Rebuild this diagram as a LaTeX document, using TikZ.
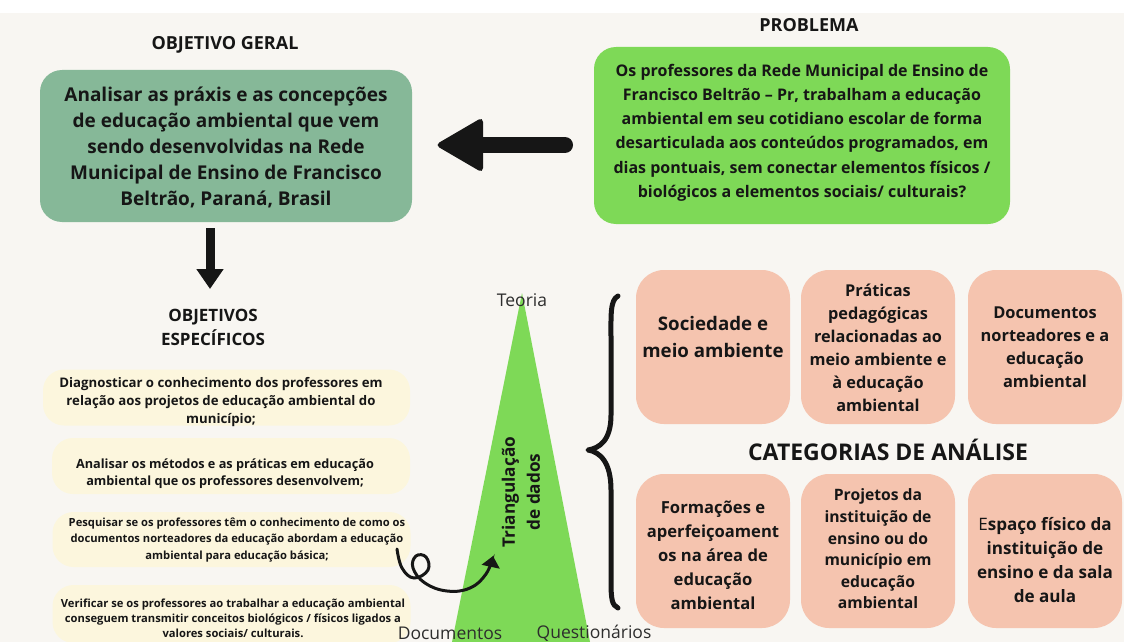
\documentclass[tikz,border=0pt]{standalone}
\usepackage{fontspec}
\setmainfont{Open Sans}
\usetikzlibrary{arrows.meta}
\definecolor{bgc}{RGB}{248,246,242}
\definecolor{sage}{RGB}{134,184,152}
\definecolor{lime}{RGB}{126,217,87}
\definecolor{cream}{RGB}{252,246,221}
\definecolor{peach}{RGB}{245,196,175}
\definecolor{ink}{RGB}{22,22,22}
\definecolor{grayink}{RGB}{45,45,45}
\newcommand{\fs}[2]{\fontsize{#1}{#2}\selectfont}
\begin{document}
\begin{tikzpicture}[x=1pt,y=-1pt,
  panel/.style={draw=none, inner sep=0pt, outer sep=0pt},
  bigbox/.style={panel, rounded corners=22pt},
  notebox/.style={panel, fill=cream, rounded corners=21pt, minimum width=358pt, minimum height=56pt},
  catbox/.style={panel, fill=peach, rounded corners=28pt, minimum width=154pt, minimum height=154pt},
  txt/.style={align=center, inner sep=0pt, text=ink, font=\bfseries},
  title/.style={align=center, inner sep=0pt, text=ink, font=\bfseries\fs{18}{24}},
  plain/.style={inner sep=0pt, text=grayink, font=\fs{17.5}{20}}
]
\useasboundingbox (0,0) rectangle (1124,642);
\fill[bgc] (0,0) rectangle (1124,642);
\fill[white] (0,0) rectangle (1124,13);

% titles
\node[title] (tog) at (225,45) {OBJETIVO GERAL};
\node[title] (tpb) at (809,25) {PROBLEMA};
\node[title, font=\bfseries\fs{17}{24}] (toe) at (213,327) {OBJETIVOS\\ESPECÍFICOS};
\node[txt, font=\bfseries\fs{23}{28}] (tcat) at (888,450) {CATEGORIAS DE ANÁLISE};

% objetivo geral
\node[bigbox, fill=sage, minimum width=372pt, minimum height=152pt] (og) at (226,146) {};
\node[txt, font=\bfseries\fs{19}{26}] (ogt) at (226,147) {Analisar as práxis e as concepções\\de educação ambiental que vem\\sendo desenvolvidas na Rede\\Municipal de Ensino de Francisco\\Beltrão, Paraná, Brasil};

% problema
\node[bigbox, fill=lime, minimum width=416pt, minimum height=177pt] (pb) at (802,135.5) {};
\node[txt, font=\bfseries\fs{16}{24.2}] (pbt) at (802,132.5) {Os professores da Rede Municipal de Ensino de\\Francisco Beltrão – Pr, trabalham a educação\\ambiental em seu cotidiano escolar de forma\\desarticulada aos conteúdos programados, em\\dias pontuais, sem conectar elementos físicos /\\biológicos a elementos sociais/ culturais?};

% big arrow problema -> objetivo
\coordinate (arrS) at (565,145);
\coordinate (arrE) at (435,145);
\draw[ink, line width=16pt, line cap=round] (arrS) -- (476,145);
\fill[ink, rounded corners=5pt] (arrE) -- (483,117) -- (483,173) -- cycle;

% down arrow
\coordinate (dA) at (210,228);
\coordinate (dB) at (210,289);
\draw[ink, line width=9pt, -{Triangle[length=20pt,width=26pt]}] (dA) -- (dB);

% objetivos especificos
\node[notebox, minimum width=367pt, minimum height=56pt] (y1) at (226.5,397.5) {};
\node[txt, font=\bfseries\fs{13.2}{18}] (y1t) at (221,402) {Diagnosticar o conhecimento dos professores em\\relação aos projetos de educação ambiental do\\município;};
\node[notebox] (y2) at (231,466) {};
\node[txt, font=\bfseries\fs{12.7}{17.5}] (y2t) at (225,473.5) {Analisar os métodos e as práticas em educação\\ambiental que os professores desenvolvem;};
\node[notebox, minimum height=55pt] (y3) at (231.5,539.5) {};
\node[txt, font=\bfseries\fs{11.2}{16.5}] (y3t) at (237,540) {Pesquisar se os professores têm o conhecimento de como os\\documentos norteadores da educação abordam a educação\\ambiental para educação básica;};
\node[notebox, minimum height=58pt] (y4) at (231.5,614) {};
\node[txt, font=\bfseries\fs{11.2}{15.2}] (y4t) at (233,618) {Verificar se os professores ao trabalhar a educação ambiental\\conseguem transmitir conceitos biológicos / físicos ligados a\\valores sociais/ culturais.};

% triangle
\fill[lime] (522,293) -- (590,642) -- (452,642) -- cycle;
\node[plain] (teo) at (522,300) {Teoria};
\node[plain] (doc) at (450,633) {Documentos};
\node[plain] (que) at (594,633) {Questionários};
\node[txt, rotate=90, font=\bfseries\fs{17.2}{25}] (tri) at (521,492) {Triangulação\\de dados};

% curly arrow
\coordinate (cS) at (397,549);
\coordinate (cE) at (493,556);
\draw[ink, line width=3pt, line cap=round, -{Triangle[length=11pt,width=18pt]}]
  plot[smooth, tension=0.7] coordinates {(cS) (402,568) (414,578) (428,570) (426,557) (416,556) (413,568) (425,583) (447,591) (470,588) (486,574) (cE)};

% brace
\coordinate (bT) at (618,296);
\coordinate (bM) at (588,450);
\coordinate (bB) at (618,608);
\draw[ink, line width=5pt, line cap=round, line join=round]
  (bT) .. controls (610,300) and (611,315) .. (611,340) -- (611,415)
  .. controls (611,440) and (600,448) .. (bM)
  .. controls (600,452) and (611,462) .. (611,490) -- (611,580)
  .. controls (611,600) and (612,605) .. (bB);

% categorias
\node[catbox] (c1) at (713,347) {};
\node[catbox] (c2) at (878,347) {};
\node[catbox] (c3) at (1045,347) {};
\node[catbox] (c4) at (713,551) {};
\node[catbox] (c5) at (878,551) {};
\node[catbox] (c6) at (1045,551) {};
\node[txt, font=\bfseries\fs{18.7}{27}] (c1t) at (713,337) {Sociedade e\\meio ambiente};
\node[txt, font=\bfseries\fs{16.3}{23}] (c2t) at (878,347.5) {Práticas\\pedagógicas\\relacionadas ao\\meio ambiente e\\à educação\\ambiental};
\node[txt, font=\bfseries\fs{16.4}{23}] (c3t) at (1045,347.5) {Documentos\\norteadores e a\\educação\\ambiental};
\node[txt, font=\bfseries\fs{16.6}{24}] (c4t) at (713,555.5) {Formações e\\aperfeiçoament\\os na área de\\educação\\ambiental};
\node[txt, font=\bfseries\fs{15.7}{21.6}] (c5t) at (878,549) {Projetos da\\instituição de\\ensino ou do\\município em\\educação\\ambiental};
\node[txt, font=\bfseries\fs{17.1}{24}] (c6t) at (1045,560.5) {{\mdseries E}spaço físico da\\instituição de\\ensino e da sala\\de aula};
\end{tikzpicture}
\end{document}
